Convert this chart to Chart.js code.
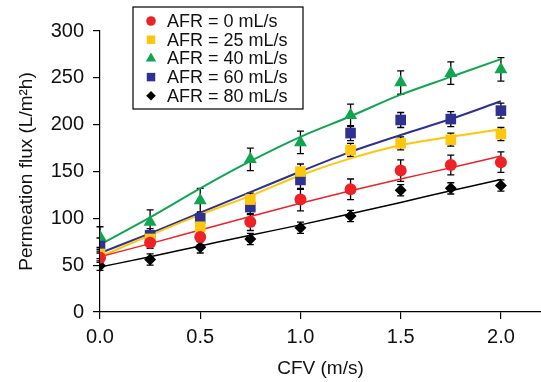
<!DOCTYPE html>
<html lang="en">

<head>
    <meta charset="UTF-8">
    <title>Permeation flux vs CFV</title>
    <style>
        body { margin: 0; background: #fff; }
    </style>
</head>

<body>
    <div style="width: 541px; height: 382px;">
        <canvas id="myChart"></canvas>
    </div>

    <script src="https://cdn.jsdelivr.net/npm/chart.js"></script>

    <script>
        // CFV (m/s)
        const v_cfv = [0, 0.25, 0.5, 0.75, 1.0, 1.25, 1.5, 1.75, 2.0];

        // measured permeation flux (L/m2h) per air flow rate
        const v_afr0 = [58, 74, 80, 96, 120, 131, 151, 157, 160];
        const v_afr25 = [62, 78, 91, 120, 150, 173, 180, 184, 190];
        const v_afr40 = [80, 96, 119, 163, 181, 210, 245, 255, 259];
        const v_afr60 = [72, 82, 100, 112, 141, 191, 205, 206, 215];
        const v_afr80 = [49.5, 56, 69, 78, 90, 102.5, 130, 132, 135];

        // error bars (+/-)
        const v_err0 = [5, 6, 8, 9, 12, 11, 11.5, 10.5, 11];
        const v_err25 = [5, 6, 6, 7, 8, 7, 7, 7, 7];
        const v_err40 = [11, 13, 13, 12, 12, 12, 12.5, 12, 12.5];
        const v_err60 = [7, 7, 7, 8, 10, 8, 8, 8, 8];
        const v_err80 = [5, 6, 6, 6, 6, 6, 6, 6, 6];

        // fitted curves
        const v_fit0 = [59, 73, 87.5, 102, 116, 129.5, 142, 154, 166.5];
        const v_fit25 = [59, 82, 104, 124, 146, 164, 178, 187, 195];
        const v_fit40 = [72, 101, 132, 161, 187, 209, 232, 251, 270];
        const v_fit60 = [63, 84, 106, 128, 150, 171, 189, 206, 225];
        const v_fit80 = [48, 59, 70.5, 82, 93, 105, 117, 129.5, 141.5];

        const v_labels = ["AFR = 0 mL/s", "AFR = 25 mL/s", "AFR = 40 mL/s", "AFR = 60 mL/s", "AFR = 80 mL/s"];

        const FONT = "'Liberation Sans', Arial, sans-serif";

        function f_points(ys) {
            let arr = [];
            for (let i = 0; i < v_cfv.length; i++) {
                arr.push({ x: v_cfv[i], y: ys[i] });
            }
            return arr;
        }

        let v_series = [
            { data: v_afr0, err: v_err0, fit: v_fit0, color: "#ec2227", style: "circle", radius: 6, lw: 1.5 },
            { data: v_afr25, err: v_err25, fit: v_fit25, color: "#fdc70c", style: "rect", radius: 7.5, lw: 2 },
            { data: v_afr40, err: v_err40, fit: v_fit40, color: "#10a550", style: "triangle", radius: 7.5, lw: 2 },
            { data: v_afr60, err: v_err60, fit: v_fit60, color: "#2e3192", style: "rect", radius: 7.5, lw: 2 },
            { data: v_afr80, err: v_err80, fit: v_fit80, color: "#000000", style: "rectRot", radius: 6, lw: 1.5 }
        ];

        let v_datasets = [];
        // markers first (drawn on top)
        for (let k = 0; k < v_series.length; k++) {
            let s = v_series[k];
            v_datasets.push({
                label: v_labels[k],
                data: f_points(s.data),
                showLine: false,
                pointStyle: s.style,
                pointRadius: s.radius,
                pointBackgroundColor: s.color,
                pointBorderColor: s.color,
                pointBorderWidth: 0,
                errors: s.err
            });
        }
        // fitted lines
        for (let k = 0; k < v_series.length; k++) {
            let s = v_series[k];
            v_datasets.push({
                label: "fit " + k,
                data: f_points(s.fit),
                showLine: true,
                borderColor: s.color,
                borderWidth: s.lw,
                pointRadius: 0,
                cubicInterpolationMode: "monotone"
            });
        }

        const errorBars = {
            id: "errorBars",
            beforeDatasetsDraw(chart) {
                const ctx = chart.ctx;
                const xs = chart.scales.x;
                const ys = chart.scales.y;
                ctx.save();
                ctx.strokeStyle = "#000";
                ctx.lineWidth = 1.3;
                chart.data.datasets.forEach(function (ds) {
                    if (!ds.errors) return;
                    ds.data.forEach(function (p, i) {
                        let x = xs.getPixelForValue(p.x);
                        let y1 = ys.getPixelForValue(p.y + ds.errors[i]);
                        let y2 = ys.getPixelForValue(p.y - ds.errors[i]);
                        ctx.beginPath();
                        ctx.moveTo(x, y1); ctx.lineTo(x, y2);
                        ctx.moveTo(x - 3.5, y1); ctx.lineTo(x + 3.5, y1);
                        ctx.moveTo(x - 3.5, y2); ctx.lineTo(x + 3.5, y2);
                        ctx.stroke();
                    });
                });
                ctx.restore();
            }
        };

        const boxLegend = {
            id: "boxLegend",
            afterDraw(chart) {
                const ctx = chart.ctx;
                ctx.save();
                ctx.fillStyle = "#fff";
                ctx.fillRect(133, 7, 170, 102);
                ctx.strokeStyle = "#000";
                ctx.lineWidth = 1.2;
                ctx.strokeRect(133, 7, 170, 102);
                ctx.font = "18px " + FONT;
                ctx.textBaseline = "middle";
                ctx.textAlign = "left";
                for (let k = 0; k < v_series.length; k++) {
                    let y = 21 + k * 18.7;
                    let s = v_series[k];
                    ctx.fillStyle = s.color;
                    ctx.strokeStyle = s.color;
                    Chart.helpers.drawPoint(ctx, {
                        pointStyle: s.style,
                        radius: s.radius * 0.8,
                        rotation: 0,
                        borderWidth: 0
                    }, 151, y);
                    ctx.fillStyle = "#111";
                    ctx.fillText(v_labels[k], 167, y + 1);
                }
                ctx.restore();
            }
        };

        const ctx = document.getElementById("myChart");

        new Chart(ctx, {
            type: "scatter",
            data: { datasets: v_datasets },
            options: {
                responsive: true,
                maintainAspectRatio: false,
                animation: false,
                layout: { autoPadding: false, padding: { top: 31, right: 0, left: 0, bottom: 0 } },
                plugins: {
                    legend: { display: false },
                    tooltip: { enabled: false }
                },
                scales: {
                    x: {
                        type: "linear",
                        min: 0,
                        max: 2.2,
                        afterFit: function (scale) {
                            scale.height = 70;
                            scale.paddingRight = 0;
                            scale.paddingLeft = 0;
                        },
                        grid: { drawOnChartArea: false, drawTicks: true, tickLength: 7, color: "#000", lineWidth: 1.2 },
                        border: { display: true, color: "#000", width: 1.2 },
                        ticks: {
                            stepSize: 0.5,
                            includeBounds: false,
                            color: "#111",
                            padding: 6,
                            font: { family: FONT, size: 20 },
                            callback: function (v) { return v.toFixed(1); }
                        },
                        title: {
                            display: true,
                            text: "CFV (m/s)",
                            color: "#111",
                            font: { family: FONT, size: 19 },
                            padding: { top: 0, bottom: 2 }
                        }
                    },
                    y: {
                        min: 0,
                        max: 300,
                        afterFit: function (scale) {
                            scale.width = 100;
                            scale.paddingTop = 0;
                            scale.paddingBottom = 0;
                        },
                        grid: { drawOnChartArea: false, drawTicks: true, tickLength: 7, color: "#000", lineWidth: 1.2 },
                        border: { display: true, color: "#000", width: 1.2 },
                        ticks: {
                            stepSize: 50,
                            color: "#111",
                            padding: 9,
                            font: { family: FONT, size: 20 }
                        },
                        title: {
                            display: true,
                            text: "Permeation flux (L/m²h)",
                            color: "#111",
                            font: { family: FONT, size: 19 },
                            padding: { top: 15, bottom: 0 }
                        }
                    }
                }
            },
            plugins: [errorBars, boxLegend]
        });
    </script>

</body>

</html>
